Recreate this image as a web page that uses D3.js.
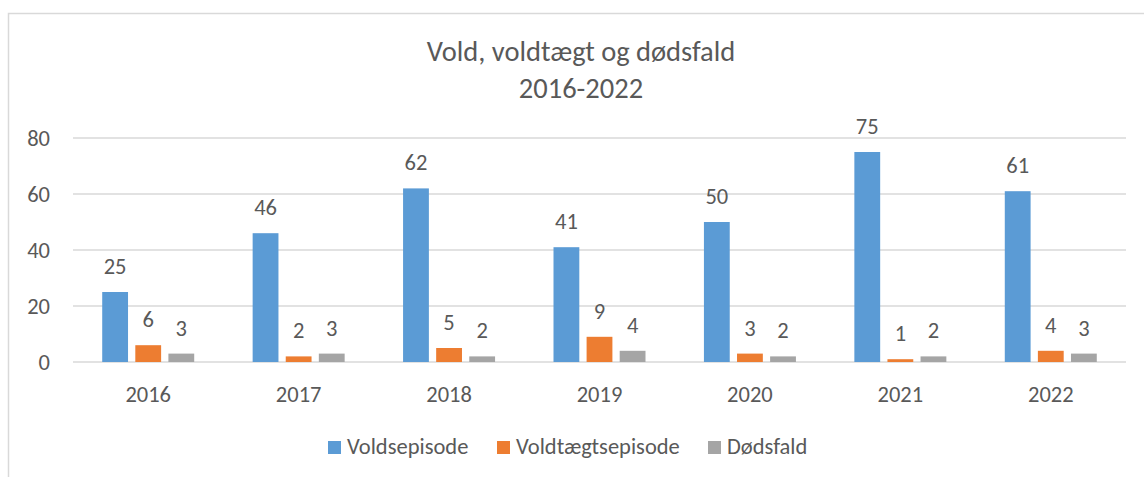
<!DOCTYPE html>
<html>
<head>
<meta charset="utf-8">
<script src="https://cdn.jsdelivr.net/npm/d3@7"></script>
<style>
  body { margin: 0; background: #fff; }
  svg text { font-family: Carlito, Lato, "Open Sans", sans-serif; fill: #595959; }
</style>
</head>
<body>
<div id="chart"></div>
<script>
const years = ["2016", "2017", "2018", "2019", "2020", "2021", "2022"]
const seriesNames = ["Voldsepisode", "Voldtægtsepisode", "Dødsfald"]
const voldsepisode = [25, 46, 62, 41, 50, 75, 61]
const voldtaegtsepisode = [6, 2, 5, 9, 3, 1, 4]
const doedsfald = [3, 3, 2, 4, 2, 2, 3]
const yTicks = [0, 20, 40, 60, 80]
const colors = ["#5B9BD5", "#ED7D31", "#A5A5A5"]

const width = 1144, height = 477
const plot = { left: 73, right: 1126, top: 138, bottom: 362 }
const fontSize = "22.5px"

const svg = d3.select("#chart").append("svg")
  .attr("width", width)
  .attr("height", height)

// chart frame
svg.append("rect")
  .attr("x", 8.5).attr("y", 13.5)
  .attr("width", width + 20).attr("height", height)
  .attr("fill", "none")
  .attr("stroke", "#d9d9d9")
  .attr("stroke-width", 1.5)

// title
const title = svg.append("text")
  .attr("text-anchor", "middle")
  .style("font-size", "28.5px")
title.append("tspan").attr("x", 581).attr("y", 61).text("Vold, voldtægt og dødsfald")
title.append("tspan").attr("x", 581).attr("y", 98).text("2016-2022")

const x = d3.scaleBand().domain(years).range([plot.left, plot.right]).paddingInner(0).paddingOuter(0)
const inner = d3.scaleBand().domain(seriesNames).range([0, 92]).paddingInner(0.22)
const y = d3.scaleLinear().domain([0, 80]).range([plot.bottom, plot.top])

// gridlines
svg.append("g")
  .selectAll("line")
  .data(yTicks)
  .enter().append("line")
  .attr("x1", plot.left).attr("x2", plot.right)
  .attr("y1", d => y(d)).attr("y2", d => y(d))
  .attr("stroke", "#d9d9d9")
  .attr("stroke-width", 1.3)

// y axis labels
const yAxis = svg.append("g")
  .attr("transform", "translate(" + (plot.left - 8) + ",0)")
  .call(d3.axisLeft(y).tickValues(yTicks).tickSize(0).tickPadding(15))
yAxis.select(".domain").remove()
yAxis.selectAll("text").style("font-size", fontSize).attr("fill", "#595959").attr("dy", "0.35em")

// x axis labels
const xAxis = svg.append("g")
  .attr("transform", "translate(0," + plot.bottom + ")")
  .call(d3.axisBottom(x).tickSize(0).tickPadding(24))
xAxis.select(".domain").remove()
xAxis.selectAll("text").style("font-size", fontSize).attr("fill", "#595959")

const rows = years.map((yr, i) => ({
  year: yr,
  values: [voldsepisode[i], voldtaegtsepisode[i], doedsfald[i]]
}))

const groups = svg.append("g")
  .selectAll("g")
  .data(rows)
  .enter().append("g")
  .attr("transform", d => "translate(" + (x(d.year) + x.bandwidth() / 2 - 46) + ",0)")

groups.selectAll("rect")
  .data(d => d.values.map((v, j) => ({ name: seriesNames[j], value: v, color: colors[j] })))
  .enter().append("rect")
  .attr("x", d => inner(d.name))
  .attr("width", inner.bandwidth())
  .attr("y", d => y(d.value))
  .attr("height", d => y(0) - y(d.value))
  .attr("fill", d => d.color)

groups.selectAll("text.lbl")
  .data(d => d.values.map((v, j) => ({ name: seriesNames[j], value: v })))
  .enter().append("text")
  .attr("class", "lbl")
  .attr("text-anchor", "middle")
  .attr("x", d => inner(d.name) + inner.bandwidth() / 2)
  .attr("y", d => y(d.value) - 18)
  .style("font-size", fontSize)
  .text(d => d.value)

// legend
const legendX = [328, 497, 708]
const legend = svg.append("g")
  .selectAll("g")
  .data(seriesNames)
  .enter().append("g")
  .attr("transform", (d, i) => "translate(" + legendX[i] + ",441)")
legend.append("rect")
  .attr("width", 13).attr("height", 13)
  .attr("fill", (d, i) => colors[i])
legend.append("text")
  .attr("x", 19).attr("y", 12.5)
  .style("font-size", fontSize)
  .text(d => d)
</script>
</body>
</html>
